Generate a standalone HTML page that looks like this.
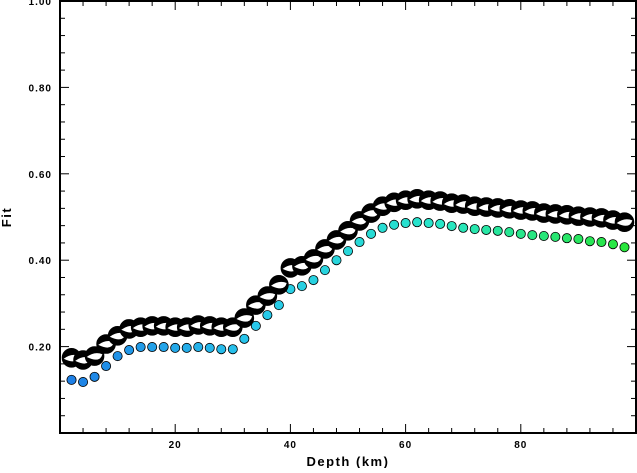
<!DOCTYPE html>
<html><head><meta charset="utf-8"><style>
body{margin:0;background:#fff;}
svg text{font-family:"Liberation Sans",sans-serif;font-weight:bold;}
</style></head><body>
<svg id="chart" width="637" height="468" xmlns="http://www.w3.org/2000/svg">
<g id="axes"></g><g id="marks"></g>
<text x="348" y="466" font-size="13" text-anchor="middle" letter-spacing="1.5">Depth (km)</text>
<text transform="translate(11,217) rotate(-90)" font-size="13" text-anchor="middle" letter-spacing="1.5">Fit</text>
</svg>
<script>
const depths=[2,4,6,8,10,12,14,16,18,20,22,24,26,28,30,32,34,36,38,40,42,44,46,48,50,52,54,56,58,60,62,64,66,68,70,72,74,76,78,80,82,84,86,88,90,92,94,96,98];
const fitValues=[0.174,0.169,0.178,0.206,0.225,0.241,0.245,0.248,0.248,0.245,0.245,0.25,0.248,0.245,0.245,0.266,0.296,0.317,0.343,0.382,0.387,0.403,0.426,0.447,0.468,0.491,0.509,0.525,0.534,0.539,0.542,0.539,0.537,0.532,0.530,0.525,0.523,0.521,0.519,0.516,0.514,0.509,0.507,0.505,0.502,0.500,0.498,0.493,0.488];
const dotValues=[0.123,0.118,0.130,0.155,0.178,0.192,0.199,0.199,0.199,0.197,0.197,0.199,0.197,0.194,0.194,0.218,0.248,0.273,0.296,0.333,0.340,0.354,0.377,0.400,0.421,0.442,0.461,0.475,0.482,0.486,0.488,0.486,0.484,0.479,0.475,0.472,0.470,0.468,0.465,0.461,0.458,0.456,0.454,0.451,0.449,0.444,0.442,0.437,0.430];
const yTicks=[0.2,0.4,0.6,0.8,1.0];
const xTicks=[20,40,60,80];
const NS="http://www.w3.org/2000/svg";
const X0=60,X1=636,Y0=433,Y1=1;
function xs(d){return X0+(d/100)*(X1-X0);}
function ys(v){return Y0-v*(Y0-Y1);}
function mk(t,a,p){const e=document.createElementNS(NS,t);for(const k in a)e.setAttribute(k,a[k]);p.appendChild(e);return e;}
const ax=document.getElementById('axes'),mg=document.getElementById('marks');
const frame=mk('rect',{x:X0,y:Y1,width:X1-X0,height:Y0-Y1,fill:'none',stroke:'#000','stroke-width':2},ax);


for(let v=0.04;v<1;v+=0.04){const y=ys(v);const big=Math.abs(v*5-Math.round(v*5))<1e-6;
 mk('line',{x1:X0,x2:X0+(big?9:5),y1:y,y2:y,stroke:'#000'},ax);
 mk('line',{x1:X1,x2:X1-(big?9:5),y1:y,y2:y,stroke:'#000'},ax);}
for(let d=4;d<100;d+=4){const x=xs(d);const big=d%20==0;
 mk('line',{x1:x,x2:x,y1:Y0,y2:Y0-(big?9:5),stroke:'#000'},ax);
 mk('line',{x1:x,x2:x,y1:Y1,y2:Y1+(big?9:5),stroke:'#000'},ax);}
yTicks.forEach(v=>{const t=mk('text',{x:52,y:ys(v)+4,'font-size':10,'text-anchor':'end','letter-spacing':1},ax);t.textContent=v.toFixed(2);
 
 });
xTicks.forEach(d=>{const t=mk('text',{x:xs(d),y:448,'font-size':10,'text-anchor':'middle','letter-spacing':1},ax);t.textContent=d;
 
 });
function dotColor(i,n){const f=i/(n-1);const stops=[[30,128,230],[40,200,235],[40,230,200],[40,230,60]];
 const p=f*(stops.length-1),k=Math.min(Math.floor(p),stops.length-2),r=p-k;
 const c=stops[k].map((a,j)=>Math.round(a+(stops[k+1][j]-a)*r));return `rgb(${c})`;}
depths.forEach((d,i)=>{const c=mk('circle',{cx:xs(d),cy:ys(dotValues[i]),r:4.6,fill:dotColor(i,depths.length),stroke:'#000','stroke-width':0.8},mg);
 
 });
depths.forEach((d,i)=>{const cx=xs(d),cy=ys(fitValues[i]),r=9.2;
 const g=mk('g',{},mg);
 
 
 mk('circle',{cx,cy,r,fill:'#000'},g);
 mk('path',{d:`M${cx-r*0.85},${cy+r*0.1} Q${cx},${cy-r*0.55} ${cx+r*0.85},${cy-r*0.2} Q${cx+r*0.6},${cy+r*0.8} ${cx-r*0.85},${cy+r*0.1}Z`,fill:'#fff'},g);
 mk('circle',{cx,cy,r,fill:'none',stroke:'#000','stroke-width':1.2},g);});
</script>
</body></html>
